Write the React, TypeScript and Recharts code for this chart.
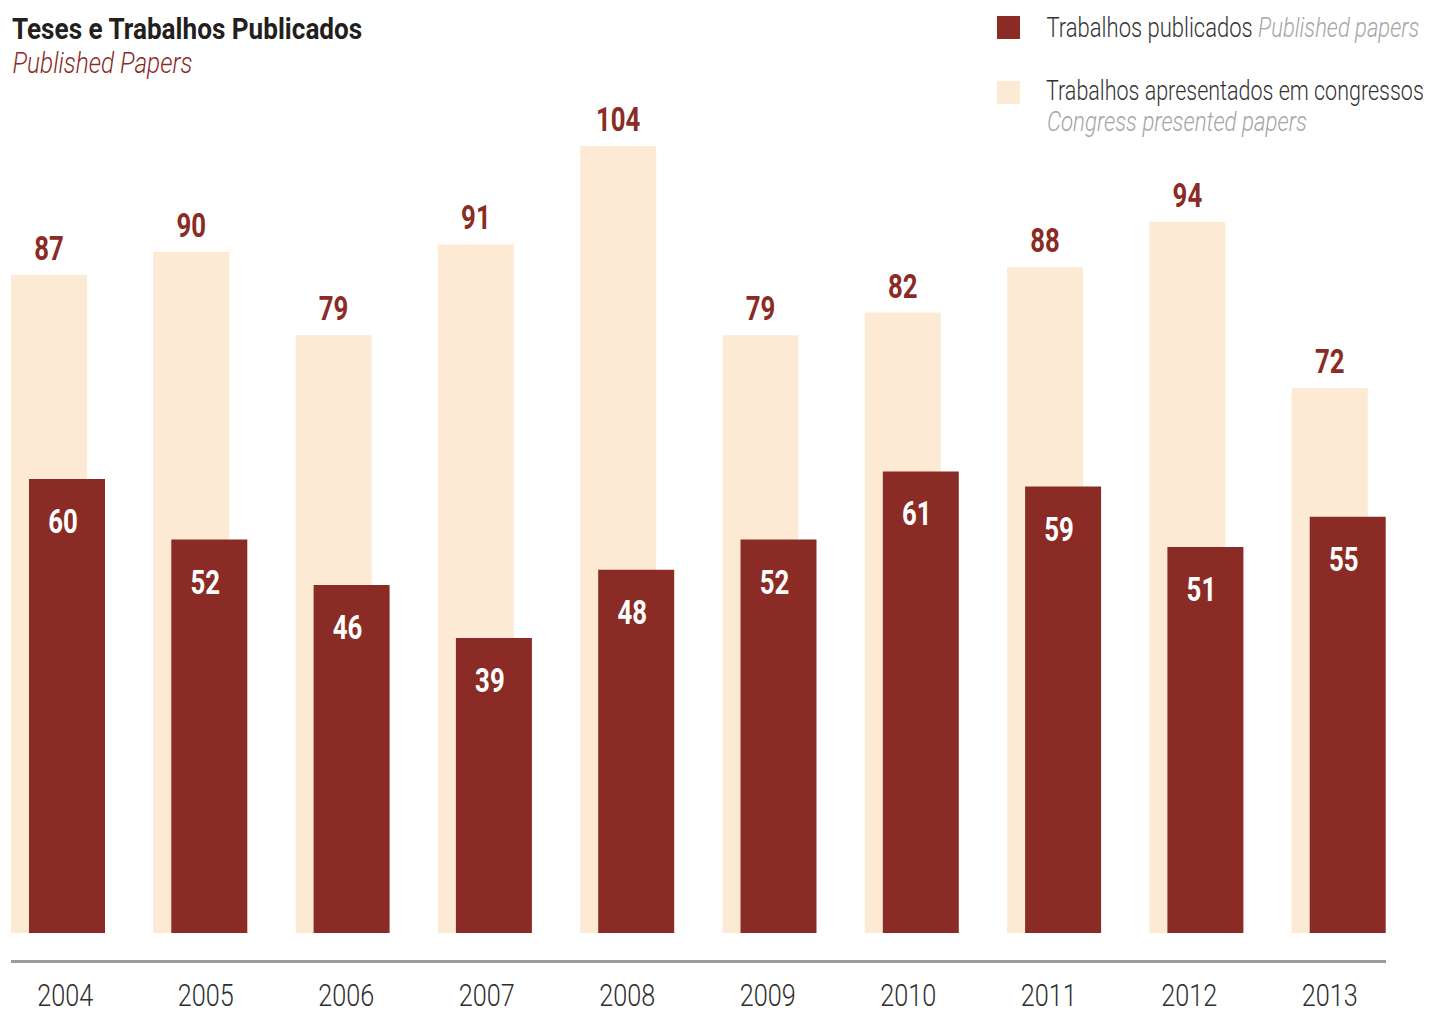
import { Bar, BarChart, LabelList, Legend, XAxis, YAxis } from "recharts";

const years = ["2004", "2005", "2006", "2007", "2008", "2009", "2010", "2011", "2012", "2013"];
const published = [60, 52, 46, 39, 48, 52, 61, 59, 51, 55];
const congress = [87, 90, 79, 91, 104, 79, 82, 88, 94, 72];

const data = years.map((year, i) => ({ year, published: published[i], congress: congress[i] }));

// no condensed face installed, so Roboto is squeezed horizontally to the original widths
const FONT = "Roboto, 'Noto Sans', sans-serif";
const DARK = "#8a2c25";
const LIGHT = "#fdead4";
const GREY = "#a5a5a5";

const ctx = document.createElement("canvas").getContext("2d")!;
function measure(text: string, size: number, weight: number | string, italic = false) {
  ctx.font = `${italic ? "italic " : ""}${weight} ${size}px ${FONT}`;
  return ctx.measureText(text).width;
}

type Part = { text: string; fill: string; italic?: boolean };

function Squeezed({ x, y, width, size, weight, parts, anchor = "start" }: {
  x: number; y: number; width: number; size: number; weight: number | string;
  parts: Part[]; anchor?: "start" | "middle";
}) {
  const natural = parts.reduce((s, p) => s + measure(p.text, size, weight, p.italic), 0);
  const k = Math.min(1, width / natural);
  return (
    <text transform={`translate(${x} ${y}) scale(${k} 1)`} textAnchor={anchor}
      fontFamily={FONT} fontSize={size} fontWeight={weight} style={{ whiteSpace: "pre" }}>
      {parts.map((p, i) => (
        <tspan key={i} fill={p.fill} fontStyle={p.italic ? "italic" : "normal"}>{p.text}</tspan>
      ))}
    </text>
  );
}

function TopLabel(props: any) {
  const { x, y, width, value } = props;
  const s = String(value);
  return <Squeezed x={x + width / 2} y={y - 15} width={s.length * 14.8} size={32.5}
    weight="bold" anchor="middle" parts={[{ text: s, fill: DARK }]} />;
}

function InnerLabel(props: any) {
  const { x, y, width, value } = props;
  const s = String(value);
  return <Squeezed x={x + width / 2 - 4} y={y + 54} width={s.length * 14.8} size={32.5}
    weight="bold" anchor="middle" parts={[{ text: s, fill: "#fff" }]} />;
}

function YearTick(props: any) {
  const { x, y, payload } = props;
  return <Squeezed x={x} y={y + 73} width={56} size={32} weight={300} anchor="middle"
    parts={[{ text: String(payload.value), fill: "#2e2e2e" }]} />;
}

function LegendBox() {
  return (
    <svg width={433} height={140} style={{ display: "block" }}>
      <rect x={0} y={16} width={23} height={23} fill={DARK} />
      <Squeezed x={49.5} y={37} width={373} size={27.5} weight={300}
        parts={[{ text: "Trabalhos publicados ", fill: "#333" },
                { text: "Published papers", fill: GREY, italic: true }]} />
      <rect x={0} y={81} width={23} height={23} fill={LIGHT} />
      <Squeezed x={49} y={100} width={378} size={27.5} weight={300}
        parts={[{ text: "Trabalhos apresentados em congressos", fill: "#333" }]} />
      <Squeezed x={50} y={131} width={260} size={27.5} weight={300}
        parts={[{ text: "Congress presented papers", fill: GREY, italic: true }]} />
    </svg>
  );
}

export default function App() {
  return (
    <div style={{ position: "absolute", left: 0, top: 0, width: 1430, height: 1014, overflow: "hidden" }}>
      <svg width={400} height={90} style={{ position: "absolute", left: 0, top: 0 }}>
        <Squeezed x={12} y={39.3} width={351} size={29.5} weight="bold"
          parts={[{ text: "Teses e Trabalhos Publicados", fill: "#231f20" }]} />
        <Squeezed x={12.5} y={73.3} width={180} size={29.5} weight={300}
          parts={[{ text: "Published Papers", fill: DARK, italic: true }]} />
      </svg>
      <div style={{ position: "absolute", left: 11, top: 960, width: 1375, height: 2.5, background: "#9c9c9e" }} />
      <div style={{ position: "absolute", left: -13, top: 0 }}>
        <BarChart width={1440} height={1014} data={data}
          margin={{ top: 25, right: 17, bottom: 0, left: 0 }}
          barSize={76} barGap={-58}>
          <XAxis xAxisId="bars" dataKey="year" hide height={0} />
          <XAxis xAxisId="lab" dataKey="year" height={81} padding={{ left: 8, right: 10 }}
            axisLine={false} tickLine={false} tickSize={0} tickMargin={0}
            tick={YearTick} interval={0} />
          <YAxis domain={[0, 120]} hide />
          <Legend layout="horizontal" verticalAlign="middle" align="center"
            wrapperStyle={{ left: 1010, top: 0, width: 433 }} content={() => <LegendBox />} />
          <Bar xAxisId="bars" dataKey="congress" fill={LIGHT} isAnimationActive={false}>
            <LabelList dataKey="congress" content={TopLabel} />
          </Bar>
          <Bar xAxisId="bars" dataKey="published" fill={DARK} isAnimationActive={false}>
            <LabelList dataKey="published" content={InnerLabel} />
          </Bar>
        </BarChart>
      </div>
    </div>
  );
}
